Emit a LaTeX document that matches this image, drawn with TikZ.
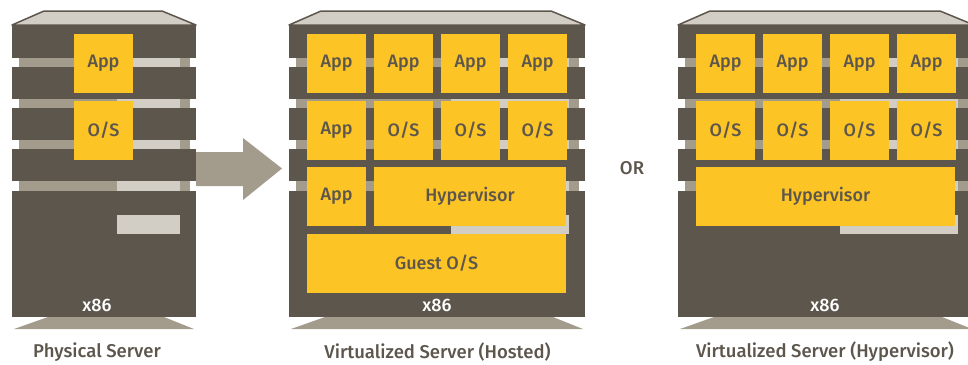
\documentclass[tikz,border=0pt]{standalone}
\usepackage{fontspec}
\setmainfont{Fira Sans}[UprightFont=* Medium]
\definecolor{chassisgray}{HTML}{5C564D}
\definecolor{railgray}{HTML}{A39C8C}
\definecolor{palegray}{HTML}{D2CEC5}
\definecolor{amber}{HTML}{FDC425}
% chassis: left edge, right edge, left end of the pale part
\newcommand{\chassis}[3]{
  \fill[railgray] (#1+7,58) rectangle (#2-6,191);
  \fill[palegray] (#3,58) rectangle (#2-16,191);
  \foreach \top/\bot in {25/58,67/99,108/140,149/181,191/317}
    \fill[chassisgray] (#1,\top) rectangle (#2,\bot);
  \fill[palegray] (#3,215) rectangle (#2-16,234);
  \filldraw[fill=palegray,draw=chassisgray,line width=1.5pt,line join=round]
    (#1,25) -- (#1+32,11) -- (#2-34,11) -- (#2,25) -- cycle;
  \fill[railgray] (#1+2,329) -- (#1+36,317) -- (#2-32,317) -- (#2-2,329) -- cycle;
}
\begin{document}
\begin{tikzpicture}
  [x=1pt,y=-1pt,
   tile/.style={fill=amber,text=chassisgray,inner sep=0pt,minimum width=59pt,
     minimum height=59pt,font=\fontsize{18}{21}\selectfont},
   board/.style={text=white,font=\fontsize{18}{21}\selectfont},
   caption/.style={text=chassisgray,font=\fontsize{18.5}{21}\selectfont}]
  \useasboundingbox (0,0) rectangle (968,364);

  % physical server
  \chassis{12}{196}{117}
  \node[tile] (p-app) at (103.5,63.5)  {App};
  \node[tile] (p-os)  at (103.5,130.5) {O/S};
  \node[board] (p-x86) at (97,305) {x86};
  \node[caption] (p-cap) at (97,352) {Physical Server};

  % arrow
  \fill[railgray] (196,152) -- (243,152) -- (243,138) -- (282,168.5)
    -- (243,200) -- (243,186) -- (196,186) -- cycle;

  % hosted
  \chassis{289}{585}{451}
  \foreach \i in {0,...,3}
    \node[tile] (h-app\i) at (336.5+67*\i,63.5) {App};
  \node[tile] (h-app4) at (336.5,130.5) {App};
  \foreach \i in {1,...,3}
    \node[tile] (h-os\i) at (336.5+67*\i,130.5) {O/S};
  \node[tile] (h-app5) at (336.5,196.5) {App};
  \node[tile,minimum width=192pt] (h-hyp) at (470,196.5) {Hypervisor};
  \node[tile,minimum width=259pt] (h-guest) at (436.5,263.5) {Guest O/S};
  \node[board] (h-x86) at (437,305) {x86};
  \node[caption] (h-cap) at (437.5,352) {Virtualized Server (Hosted)};

  \node[caption] (or) at (632,168) {OR};

  % bare metal hypervisor
  \chassis{678}{974}{840}
  \foreach \i in {0,...,3} {
    \node[tile] (v-app\i) at (725.5+67*\i,63.5) {App};
    \node[tile] (v-os\i)  at (725.5+67*\i,130.5) {O/S};
  }
  \node[tile,minimum width=259pt] (v-hyp) at (825.5,196.5) {Hypervisor};
  \node[board] (v-x86) at (825,305) {x86};
  \node[caption] (v-cap) at (825,352) {Virtualized Server (Hypervisor)};
\end{tikzpicture}
\end{document}
